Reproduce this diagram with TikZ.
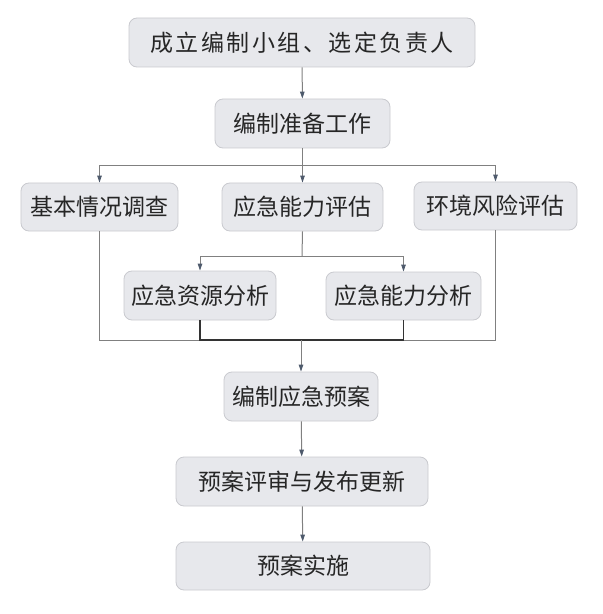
\documentclass[tikz,border=0pt]{standalone}
\usepackage{fontspec}
\newfontfamily\cjk{Noto Sans CJK SC}
\newfontfamily\cjkwide{Noto Sans CJK SC}[LetterSpace=11]
\usetikzlibrary{arrows.meta}
\definecolor{boxfill}{HTML}{E7E8EC}
\definecolor{boxline}{HTML}{C9CACF}
\definecolor{conn}{HTML}{808080}
\definecolor{tipc}{HTML}{4E5A6C}
\begin{document}
\begin{tikzpicture}[x=1bp,y=-1bp,
  stepbox/.style={draw=boxline, fill=boxfill, line width=0.8bp, rounded corners=8bp,
    inner sep=0pt, font=\cjk\fontsize{23bp}{26bp}\selectfont, text=black!85},
  conline/.style={draw=conn, line width=1bp},
  darkline/.style={draw=black!80, line width=1.2bp},
  arr/.style={conline, -{Triangle[length=7bp,width=4.5bp,fill=tipc,color=tipc]}}]
\useasboundingbox (0,0) rectangle (603,614);
\node[stepbox, minimum width=346bp, minimum height=49bp, font=\cjkwide\fontsize{23bp}{26bp}\selectfont] (b1) at (302,42.5) {成立编制小组、选定负责人\hspace{-2.5bp}};
\node[stepbox, minimum width=175bp, minimum height=49bp] (b2) at (302.5,123.5) {编制准备工作};
\node[stepbox, minimum width=157bp, minimum height=48bp] (r1) at (99.5,207) {基本情况调查};
\node[stepbox, minimum width=161bp, minimum height=48bp] (r2) at (302.5,207) {应急能力评估};
\node[stepbox, minimum width=163bp, minimum height=48bp] (r3) at (495.5,206) {环境风险评估};
\node[stepbox, minimum width=152bp, minimum height=49bp] (s1) at (200,295.5) {应急资源分析};
\node[stepbox, minimum width=155bp, minimum height=48bp] (s2) at (403.5,296) {应急能力分析};
\node[stepbox, minimum width=154bp, minimum height=49bp] (b6) at (301,396.5) {编制应急预案};
\node[stepbox, minimum width=252bp, minimum height=49bp] (b7) at (302,481.5) {预案评审与发布更新};
\node[stepbox, minimum width=254bp, minimum height=48bp] (b8) at (303,566) {预案实施};
\coordinate (j1) at (302,166);
\coordinate (j2) at (302,256);
\coordinate (j3) at (301,340);
\draw[arr] (b1) -- (b2);
\draw[arr] (b2) -- (r2);
\draw[arr] (j1) -| (r1.north);
\draw[arr] (j1) -| (r3.north);
\draw[conline] (r2.south) -- (j2);
\draw[arr] (j2) -| (s1.north);
\draw[arr] (j2) -| (s2.north);
\draw[conline] (r1.south) |- (j3);
\draw[conline] (r3.south) |- (j3);
\draw[darkline] (s1.south) |- (j3);
\draw[darkline] (s2.south) |- (j3);
\draw[arr] (j3) -- (b6.north);
\draw[arr] (b6) -- (b7);
\draw[arr] (b7) -- (b8);
\end{tikzpicture}
\end{document}
